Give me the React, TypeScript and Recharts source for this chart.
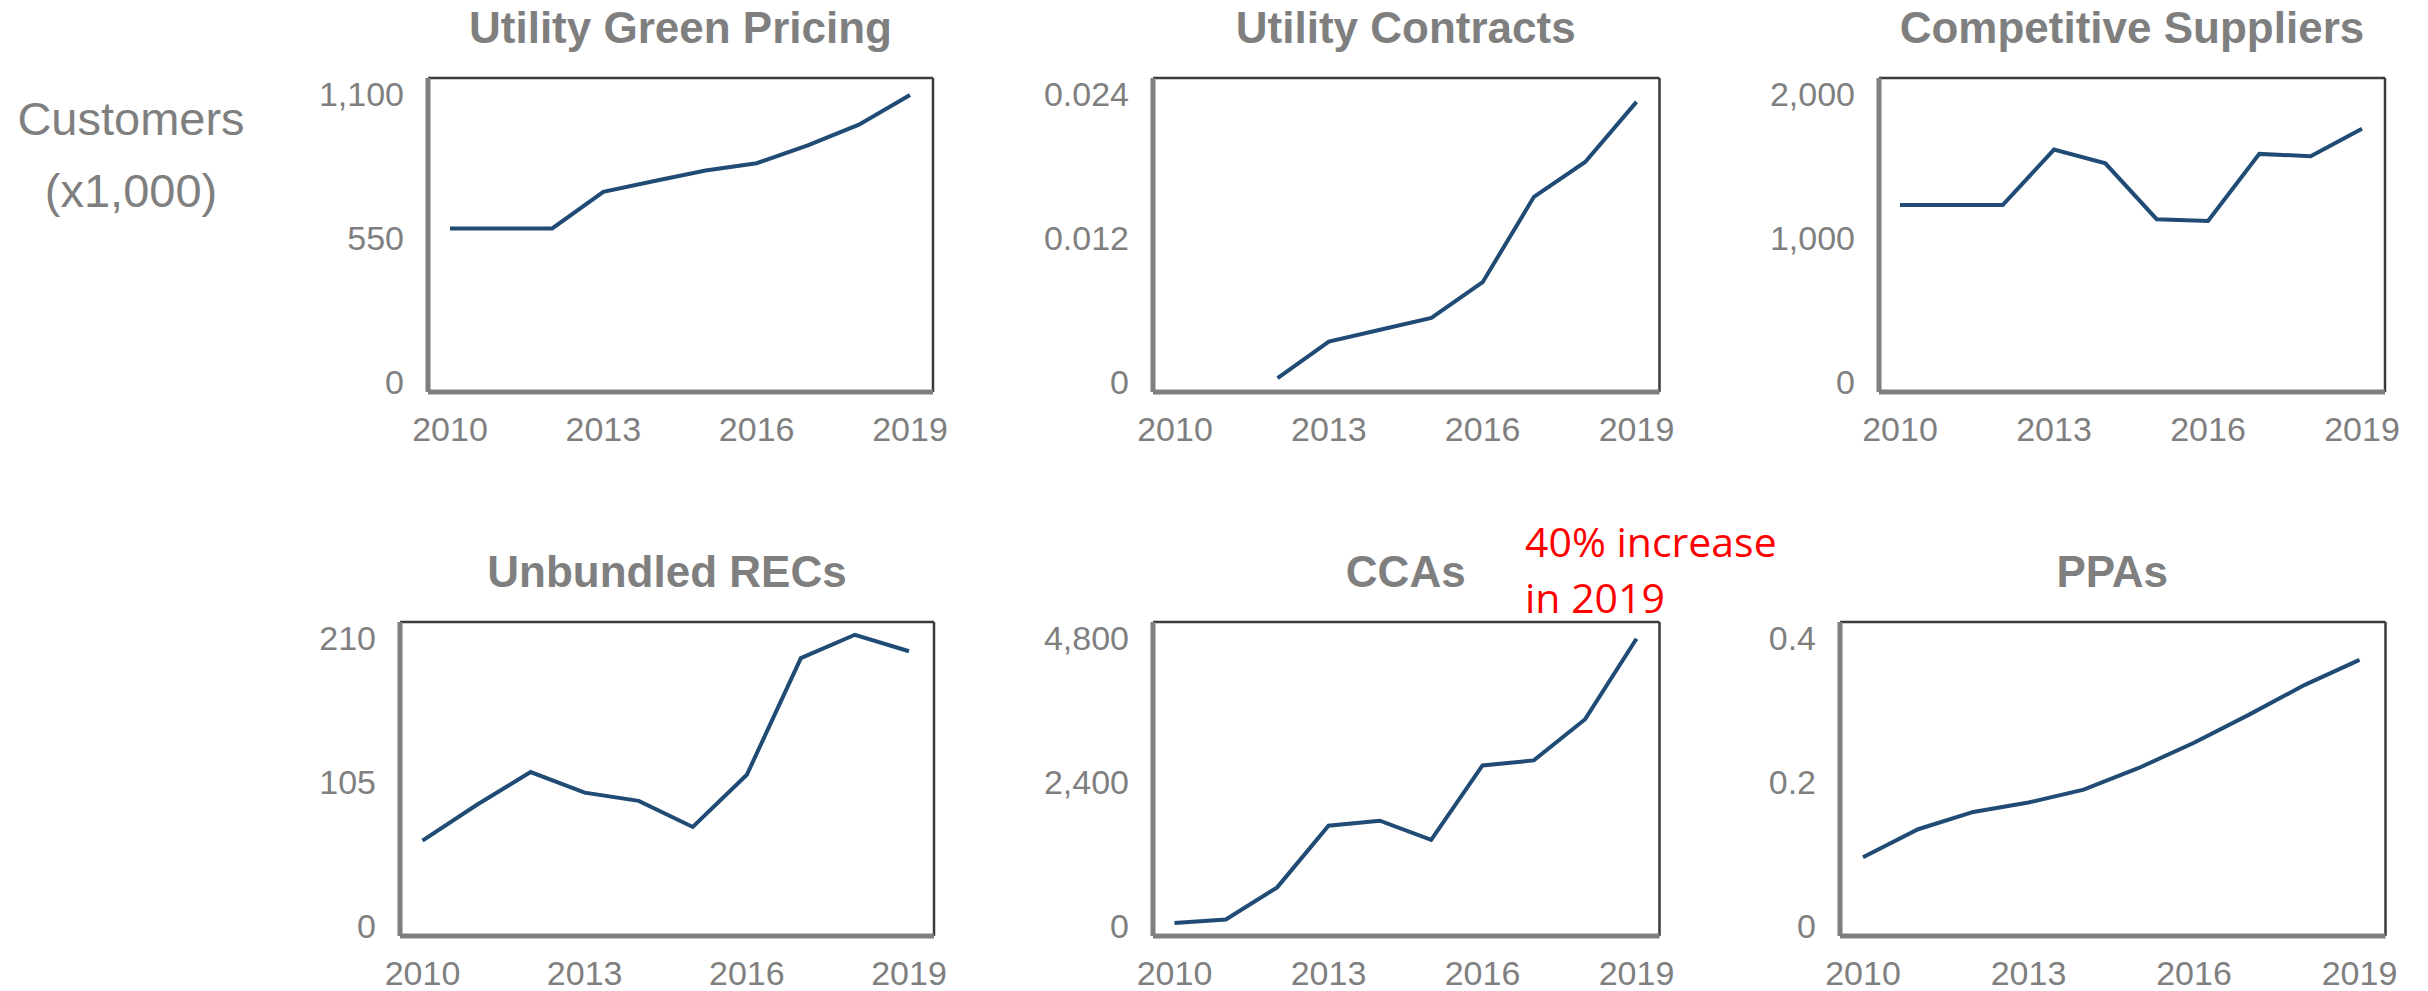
import React from 'react';
import { LineChart, Line, XAxis, YAxis, ReferenceLine } from 'recharts';

// ---- data ----
const years = [2010, 2011, 2012, 2013, 2014, 2015, 2016, 2017, 2018, 2019];
const xTicks = [2010, 2013, 2016, 2019];

const greenPricing = [585, 585, 585, 725, 766, 806, 834, 902, 981, 1094];
const utilityContracts = [null, null, 0.0003, 0.00335, 0.00433, 0.00531, 0.00829, 0.0154, 0.0183, 0.0233];
const competitiveSuppliers = [1226, 1226, 1226, 1611, 1516, 1128, 1116, 1581, 1565, 1756];
const unbundledRECs = [62, 88, 112, 97, 91, 72, 110, 195, 212, 200];
const ccas = [47, 104, 640, 1666, 1750, 1431, 2670, 2754, 3440, 4780];
const ppas = [0.095, 0.134, 0.158, 0.171, 0.189, 0.219, 0.254, 0.293, 0.334, 0.369];

const ticksGreen = [0, 550, 1100];
const ticksContracts = [0, 0.012, 0.024];
const ticksCompetitive = [0, 1000, 2000];
const ticksRECs = [0, 105, 210];
const ticksCCAs = [0, 2400, 4800];
const ticksPPAs = [0, 0.2, 0.4];

const titles = ['Utility Green Pricing', 'Utility Contracts', 'Competitive Suppliers', 'Unbundled RECs', 'CCAs', 'PPAs'];

// ---- styles ----
const GRAY = '#7f7f7f';
const DARK = '#3a3a3a';
const LINE = '#1f4b75';
const FONT = '"Liberation Sans", Arial, Helvetica, sans-serif';

type Box = { l: number; r: number; t: number; b: number; padL: number; padR: number };

const panels: { title: string; values: (number | null)[]; ticks: number[]; box: Box }[] = [
  { title: titles[0], values: greenPricing, ticks: ticksGreen, box: { l: 428, r: 933, t: 78, b: 392, padL: 22, padR: 23 } },
  { title: titles[1], values: utilityContracts, ticks: ticksContracts, box: { l: 1152.5, r: 1659, t: 78, b: 392, padL: 22, padR: 23 } },
  { title: titles[2], values: competitiveSuppliers, ticks: ticksCompetitive, box: { l: 1879, r: 2385, t: 78, b: 392, padL: 21, padR: 23 } },
  { title: titles[3], values: unbundledRECs, ticks: ticksRECs, box: { l: 400, r: 934, t: 622, b: 936, padL: 22.5, padR: 25 } },
  { title: titles[4], values: ccas, ticks: ticksCCAs, box: { l: 1152.5, r: 1659, t: 622, b: 936, padL: 21.5, padR: 23 } },
  { title: titles[5], values: ppas, ticks: ticksPPAs, box: { l: 1839.5, r: 2385, t: 622, b: 936, padL: 23, padR: 26 } },
];

const fmt = (v: number) => v.toLocaleString('en-US', { maximumFractionDigits: 3 });

const YW = 120;
const MT = 10;
const MR = 40;
const XH = 70;

function Panel({ values, ticks, box }: { values: (number | null)[]; ticks: number[]; box: Box }) {
  const data = years.map((y, i) => ({ year: y, v: values[i] }));
  const max = ticks[ticks.length - 1];
  const yDomain: [number, number] = [-0.0354 * max, 1.0538 * max];
  const boxW = box.r - box.l;
  const pxPerYear = (boxW - box.padL - box.padR) / (years[years.length - 1] - years[0]);
  const xDomain: [number, number] = [
    years[0] - box.padL / pxPerYear,
    years[years.length - 1] + box.padR / pxPerYear,
  ];
  const w = YW + boxW + MR;
  const h = MT + (box.b - box.t) + XH;
  const tickStyle = { fill: GRAY, fontSize: 34, fontFamily: FONT };
  return (
    <div style={{ position: 'absolute', left: box.l - YW, top: box.t - MT, width: w, height: h }}>
      <LineChart width={w} height={h} data={data} margin={{ top: MT, right: MR, bottom: 0, left: 0 }}>
        <XAxis
          dataKey="year"
          type="number"
          domain={xDomain}
          allowDataOverflow
          ticks={xTicks}
          interval={0}
          height={XH}
          tickLine={false}
          tickSize={0}
          tickMargin={25}
          tick={tickStyle}
          axisLine={{ stroke: GRAY, strokeWidth: 5 }}
        />
        <YAxis
          type="number"
          domain={yDomain}
          allowDataOverflow
          ticks={ticks}
          interval={0}
          width={YW}
          tickLine={false}
          tickSize={0}
          tickMargin={24}
          tick={tickStyle}
          tickFormatter={fmt}
          axisLine={{ stroke: GRAY, strokeWidth: 5 }}
        />
        <ReferenceLine y={yDomain[1]} stroke={DARK} strokeWidth={2.5} ifOverflow="visible" />
        <ReferenceLine x={xDomain[1]} stroke={DARK} strokeWidth={2.5} ifOverflow="visible" />
        <Line
          type="linear"
          dataKey="v"
          stroke={LINE}
          strokeWidth={4}
          dot={false}
          activeDot={false}
          connectNulls={false}
          isAnimationActive={false}
        />
      </LineChart>
    </div>
  );
}

export default function App() {
  return (
    <div style={{ position: 'absolute', left: 0, top: 0, width: 2428, height: 991, background: '#fff', overflow: 'hidden' }}>
      {panels.map((p, i) => (
        <Panel key={i} values={p.values} ticks={p.ticks} box={p.box} />
      ))}
      <svg width={2428} height={991} style={{ position: 'absolute', left: 0, top: 0, pointerEvents: 'none' }}>
        {panels.map((p, i) => (
          <text
            key={i}
            x={(p.box.l + p.box.r) / 2}
            y={p.box.t - 34.7}
            textAnchor="middle"
            fontFamily={FONT}
            fontWeight="bold"
            fontSize={44}
            fill={GRAY}
          >
            {p.title}
          </text>
        ))}
        <text x={131} y={135} textAnchor="middle" fontFamily={FONT} fontSize={47} fill={GRAY}>
          Customers
        </text>
        <text x={131} y={206.7} textAnchor="middle" fontFamily={FONT} fontSize={47} fill={GRAY}>
          (x1,000)
        </text>
        <text x={1525} y={556.7} fontFamily='"Open Sans", sans-serif' fontSize={41} fill="#ff0000">
          40% increase
        </text>
        <text x={1525} y={613.3} fontFamily='"Open Sans", sans-serif' fontSize={41} fill="#ff0000">
          in 2019
        </text>
      </svg>
    </div>
  );
}
